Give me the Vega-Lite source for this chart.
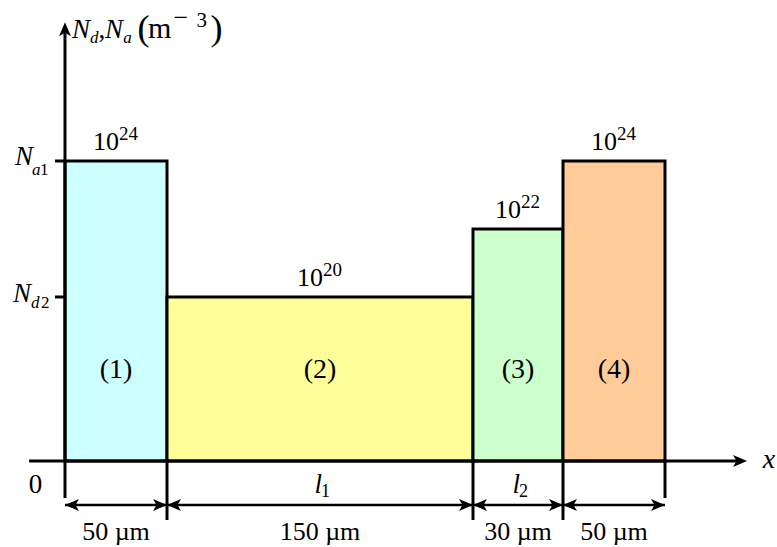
{
  "$schema": "https://vega.github.io/schema/vega-lite/v6.json",
  "width": 777,
  "height": 547,
  "autosize": "none",
  "padding": 0,
  "background": "white",
  "config": {
    "view": {"stroke": null},
    "text": {"font": "Liberation Serif", "color": "black", "baseline": "alphabetic"}
  },
  "datasets": {
    "regions": [
      {"region": "(1)", "x0": 0, "x1": 50, "n": 1e24, "exp": "24", "len": "50 µm", "l": null},
      {"region": "(2)", "x0": 50, "x1": 200, "n": 1e20, "exp": "20", "len": "150 µm", "l": "1"},
      {"region": "(3)", "x0": 200, "x1": 230, "n": 1e22, "exp": "22", "len": "30 µm", "l": "2"},
      {"region": "(4)", "x0": 230, "x1": 280, "n": 1e24, "exp": "24", "len": "50 µm", "l": null}
    ],
    "one": [{}]
  },
  "data": {"name": "regions"},
  "transform": [{"calculate": "(datum.x0 + datum.x1) / 2", "as": "mid"}],
  "layer": [
    {
      "mark": {"type": "rect", "stroke": "black", "strokeWidth": 3},
      "encoding": {
        "x": {
          "field": "x0", "type": "quantitative", "axis": null,
          "scale": {"domain": [0, 50, 200, 230, 280], "range": [65, 167, 473, 563, 665], "nice": false, "zero": false}
        },
        "x2": {"field": "x1"},
        "y": {
          "field": "n", "type": "quantitative", "axis": null,
          "scale": {"type": "log", "domain": [1.5e15, 1e24], "range": [461, 161], "nice": false}
        },
        "y2": {"datum": 1.5e15},
        "color": {
          "field": "region", "type": "nominal", "legend": null,
          "scale": {"domain": ["(1)", "(2)", "(3)", "(4)"], "range": ["#ccffff", "#ffff99", "#ccffcc", "#ffcc99"]}
        }
      }
    },
    {
      "data": {"name": "one"},
      "mark": {"type": "rule", "color": "black", "strokeWidth": 3},
      "encoding": {"x": {"datum": -17.6}, "x2": {"datum": 316.5}, "y": {"datum": 1.5e15}}
    },
    {
      "data": {"name": "one"},
      "mark": {"type": "point", "shape": "M0,0 L-2,-0.85 L-1.5,0 L-2,0.85 Z", "filled": true, "color": "black", "opacity": 1, "size": 196},
      "encoding": {"x": {"datum": 320.2}, "y": {"datum": 1.5e15}}
    },
    {
      "data": {"name": "one"},
      "mark": {"type": "rule", "color": "black", "strokeWidth": 3},
      "encoding": {"x": {"datum": 0}, "y": {"datum": 1.22e14}, "y2": {"datum": 7.1e27}}
    },
    {
      "data": {"name": "one"},
      "mark": {"type": "point", "shape": "M0,0 L-0.85,2 L0,1.5 L0.85,2 Z", "filled": true, "color": "black", "opacity": 1, "size": 196},
      "encoding": {"x": {"datum": 0}, "y": {"datum": 1.2e28}}
    },
    {
      "data": {"values": [{"level": 1e24}, {"level": 1e20}]},
      "mark": {"type": "rule", "color": "black", "strokeWidth": 3},
      "encoding": {"x": {"datum": -4.9}, "x2": {"datum": 0}, "y": {"field": "level", "type": "quantitative"}}
    },
    {
      "data": {"values": [{"b": 50}, {"b": 200}, {"b": 230}]},
      "mark": {"type": "rule", "color": "black", "strokeWidth": 3},
      "encoding": {"x": {"field": "b", "type": "quantitative"}, "y": {"datum": 1.5e15}, "y2": {"datum": 2.76e13}}
    },
    {
      "data": {"name": "one"},
      "mark": {"type": "rule", "color": "black", "strokeWidth": 3},
      "encoding": {"x": {"datum": 280}, "y": {"datum": 1.5e15}, "y2": {"datum": 1.22e14}}
    },
    {
      "mark": {"type": "rule", "color": "black", "strokeWidth": 2.5},
      "encoding": {"x": {"field": "x0", "type": "quantitative"}, "x2": {"field": "x1"}, "y": {"datum": 7.6e13}}
    },
    {
      "mark": {"type": "point", "shape": "M0,0 L2,-0.85 L1.5,0 L2,0.85 Z", "filled": true, "color": "black", "opacity": 1, "size": 196},
      "encoding": {"x": {"field": "x0", "type": "quantitative"}, "y": {"datum": 7.6e13}}
    },
    {
      "mark": {"type": "point", "shape": "M0,0 L-2,-0.85 L-1.5,0 L-2,0.85 Z", "filled": true, "color": "black", "opacity": 1, "size": 196},
      "encoding": {"x": {"field": "x1", "type": "quantitative"}, "y": {"datum": 7.6e13}}
    },
    {
      "mark": {"type": "text", "text": "10", "fontSize": 26, "align": "right", "dx": 3, "dy": -11},
      "encoding": {"x": {"field": "mid", "type": "quantitative"}, "y": {"field": "n", "type": "quantitative"}}
    },
    {
      "mark": {"type": "text", "fontSize": 19, "align": "left", "dx": 3, "dy": -21},
      "encoding": {"x": {"field": "mid", "type": "quantitative"}, "y": {"field": "n", "type": "quantitative"}, "text": {"field": "exp"}}
    },
    {
      "mark": {"type": "text", "fontSize": 28, "align": "center"},
      "encoding": {"x": {"field": "mid", "type": "quantitative"}, "y": {"datum": 4.1e17}, "text": {"field": "region"}}
    },
    {
      "mark": {"type": "text", "fontSize": 26, "align": "center"},
      "encoding": {"x": {"field": "mid", "type": "quantitative"}, "y": {"datum": 7.1e12}, "text": {"field": "len"}}
    },
    {
      "transform": [{"filter": "datum.l != null"}],
      "mark": {"type": "text", "text": "l", "fontSize": 27, "fontStyle": "italic", "align": "right", "dx": 2},
      "encoding": {"x": {"field": "mid", "type": "quantitative"}, "y": {"datum": 1.7e14}}
    },
    {
      "transform": [{"filter": "datum.l != null"}],
      "mark": {"type": "text", "fontSize": 18, "align": "left", "dx": 1, "dy": 4},
      "encoding": {"x": {"field": "mid", "type": "quantitative"}, "y": {"datum": 1.7e14}, "text": {"field": "l"}}
    },
    {
      "data": {"name": "one"},
      "mark": {"type": "text", "text": "0", "fontSize": 27, "align": "center"},
      "encoding": {"x": {"datum": -14.5}, "y": {"datum": 1.7e14}}
    },
    {
      "data": {"name": "one"},
      "mark": {"type": "text", "text": "x", "fontSize": 28, "fontStyle": "italic", "align": "center", "dy": 7},
      "encoding": {"x": {"datum": 331}, "y": {"datum": 1.5e15}}
    },
    {
      "data": {"name": "one"},
      "mark": {"type": "text", "text": "N", "fontSize": 27, "fontStyle": "italic", "align": "right", "dy": 4},
      "encoding": {"x": {"datum": -15.7}, "y": {"datum": 1e24}}
    },
    {
      "data": {"name": "one"},
      "mark": {"type": "text", "text": "a", "fontSize": 17, "fontStyle": "italic", "align": "left", "dx": -1, "dy": 14},
      "encoding": {"x": {"datum": -15.7}, "y": {"datum": 1e24}}
    },
    {
      "data": {"name": "one"},
      "mark": {"type": "text", "text": "1", "fontSize": 17, "align": "left", "dx": 7, "dy": 14},
      "encoding": {"x": {"datum": -15.7}, "y": {"datum": 1e24}}
    },
    {
      "data": {"name": "one"},
      "mark": {"type": "text", "text": "N", "fontSize": 27, "fontStyle": "italic", "align": "right", "dy": 5},
      "encoding": {"x": {"datum": -16.7}, "y": {"datum": 1e20}}
    },
    {
      "data": {"name": "one"},
      "mark": {"type": "text", "text": "d", "fontSize": 17, "fontStyle": "italic", "align": "left", "dx": 0, "dy": 11},
      "encoding": {"x": {"datum": -16.7}, "y": {"datum": 1e20}}
    },
    {
      "data": {"name": "one"},
      "mark": {"type": "text", "text": "2", "fontSize": 17, "align": "left", "dx": 10, "dy": 11},
      "encoding": {"x": {"datum": -16.7}, "y": {"datum": 1e20}}
    },
    {
      "data": {"name": "one"},
      "mark": {"type": "text", "text": "N", "fontSize": 27, "fontStyle": "italic", "align": "left"},
      "encoding": {"x": {"datum": 3.4}, "y": {"datum": 4.14e27}}
    },
    {
      "data": {"name": "one"},
      "mark": {"type": "text", "text": "d", "fontSize": 17, "fontStyle": "italic", "align": "left", "dy": 5},
      "encoding": {"x": {"datum": 12.3}, "y": {"datum": 4.14e27}}
    },
    {
      "data": {"name": "one"},
      "mark": {"type": "text", "text": ",", "fontSize": 27, "align": "left"},
      "encoding": {"x": {"datum": 16.4}, "y": {"datum": 4.14e27}}
    },
    {
      "data": {"name": "one"},
      "mark": {"type": "text", "text": "N", "fontSize": 27, "fontStyle": "italic", "align": "left"},
      "encoding": {"x": {"datum": 19.6}, "y": {"datum": 4.14e27}}
    },
    {
      "data": {"name": "one"},
      "mark": {"type": "text", "text": "a", "fontSize": 17, "fontStyle": "italic", "align": "left", "dy": 5},
      "encoding": {"x": {"datum": 28.6}, "y": {"datum": 4.14e27}}
    },
    {
      "data": {"name": "one"},
      "mark": {"type": "text", "text": "(", "fontSize": 36, "align": "left", "dy": 2},
      "encoding": {"x": {"datum": 35.5}, "y": {"datum": 4.14e27}}
    },
    {
      "data": {"name": "one"},
      "mark": {"type": "text", "text": "m", "fontSize": 30, "align": "left"},
      "encoding": {"x": {"datum": 40.7}, "y": {"datum": 4.14e27}}
    },
    {
      "data": {"name": "one"},
      "mark": {"type": "text", "text": "−", "fontSize": 26, "align": "left", "dy": -12},
      "encoding": {"x": {"datum": 53.2}, "y": {"datum": 4.14e27}}
    },
    {
      "data": {"name": "one"},
      "mark": {"type": "text", "text": "3", "fontSize": 21, "align": "left", "dy": -11},
      "encoding": {"x": {"datum": 64.4}, "y": {"datum": 4.14e27}}
    },
    {
      "data": {"name": "one"},
      "mark": {"type": "text", "text": ")", "fontSize": 36, "align": "left", "dy": 2},
      "encoding": {"x": {"datum": 71.3}, "y": {"datum": 4.14e27}}
    }
  ]
}
